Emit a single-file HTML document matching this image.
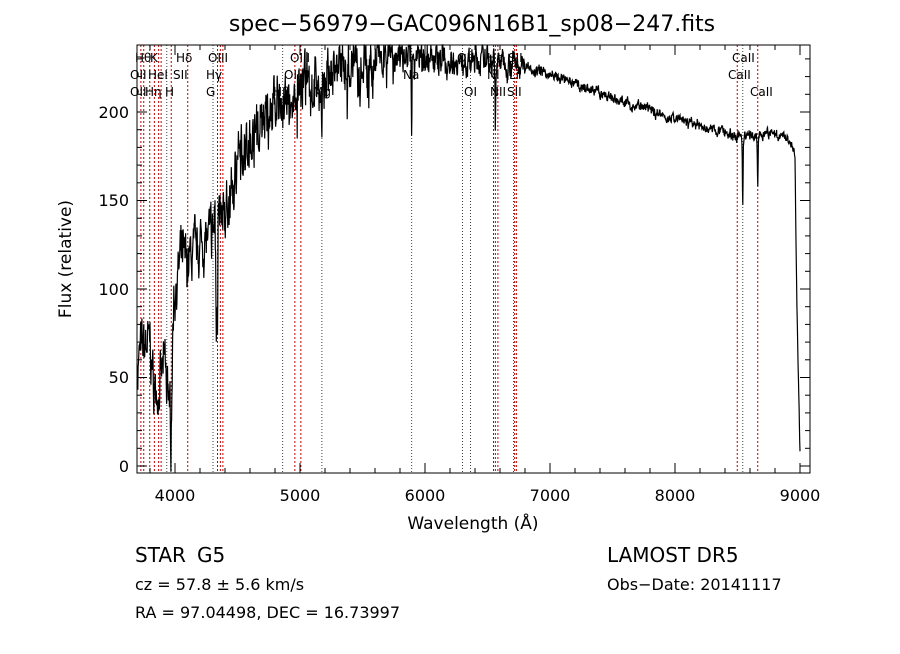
<!DOCTYPE html>
<html><head><meta charset="utf-8"><style>
body{margin:0;background:#fff;}
svg text{font-family:"DejaVu Sans","Liberation Sans",sans-serif;fill:#000;}
</style></head><body>
<svg id="s" width="900" height="649" xmlns="http://www.w3.org/2000/svg">
<rect width="900" height="649" fill="#fff"/>
<text x="472" y="31" font-size="22" text-anchor="middle">spec−56979−GAC096N16B1_sp08−247.fits</text>
<g id="lines"></g>
<polyline id="spec" fill="none" stroke="#000" stroke-width="1.2" points=""/>
<rect x="137" y="45" width="673" height="428" fill="none" stroke="#000" stroke-width="1"/>
<g id="ticks" stroke="#000" stroke-width="1"></g>
<g font-size="16" text-anchor="middle">
<text x="175" y="501">4000</text><text x="300" y="501">5000</text><text x="425" y="501">6000</text>
<text x="550" y="501">7000</text><text x="675" y="501">8000</text><text x="800" y="501">9000</text>
</g>
<g font-size="16" text-anchor="end">
<text x="129" y="472">0</text><text x="129" y="383">50</text><text x="129" y="295">100</text>
<text x="129" y="206">150</text><text x="129" y="118">200</text>
</g>
<text x="473" y="529" font-size="17" text-anchor="middle">Wavelength (Å)</text>
<text transform="translate(71,259) rotate(-90)" font-size="17" text-anchor="middle">Flux (relative)</text>
<g font-size="12" id="lab">
<text x="135" y="62">Hθ</text><text x="150" y="62">K</text><text x="176" y="62">Hδ</text><text x="208" y="62">OIII</text><text x="290" y="62">OIII</text>
<text x="130" y="79">OII</text><text x="148" y="79">HeI</text><text x="173" y="79">SII</text><text x="206" y="79">Hγ</text><text x="284" y="79">OIII</text>
<text x="130" y="96">OII</text><text x="145" y="96">Hη</text><text x="165" y="96">H</text><text x="206" y="96">G</text><text x="273" y="96">Hβ</text><text x="313" y="96">Mg</text>
<text x="457" y="62">OI</text><text x="487" y="62">Ha</text><text x="508" y="62">SII</text>
<text x="403" y="79">Na</text><text x="487" y="79">NI</text><text x="509" y="79">Li</text>
<text x="464" y="96">OI</text><text x="490" y="96">NII</text><text x="507" y="96">SII</text>
<text x="732" y="62">CaII</text><text x="728" y="79">CaII</text><text x="750" y="96">CaII</text>
</g>
<g font-size="20"><text x="135" y="562">STAR</text><text x="197" y="562">G5</text><text x="607" y="562">LAMOST DR5</text></g>
<g font-size="16"><text x="135" y="590">cz = 57.8 ± 5.6 km/s</text><text x="607" y="590">Obs−Date: 20141117</text>
<text x="135" y="618">RA =  97.04498, DEC =  16.73997</text></g>
</svg>
<script>
const X=l=>137.5+(l-3700)*0.125, Y=f=>466-f*1.77;
const NS="http://www.w3.org/2000/svg";
function el(p,t,a){const e=document.createElementNS(NS,t);for(const k in a)e.setAttribute(k,a[k]);p.appendChild(e);return e;}
const tk=document.getElementById('ticks');
for(let l=3800;l<=9000;l+=200){const x=X(l),L=(l%1000==0)?10:5;el(tk,'line',{x1:x,y1:473,x2:x,y2:473-L});el(tk,'line',{x1:x,y1:45,x2:x,y2:45+L});}
for(let f=0;f<=230;f+=10){const y=Y(f),L=(f%50==0)?10:5;el(tk,'line',{x1:137,y1:y,x2:137+L,y2:y});el(tk,'line',{x1:810,y1:y,x2:810-L,y2:y});}
const lg=document.getElementById('lines');
const red=[3727,3750,3798,3835,3869,3889,3970,4102,4340,4363,4383,4959,5007,6548,6563,6583,6717,6731,8498,8662];
const blk=[3934,4304,4861,5175,5893,6300,6364,6708,8542];
red.forEach(l=>el(lg,'line',{x1:X(l),y1:45,x2:X(l),y2:473,stroke:'#c00000','stroke-dasharray':'2,2','stroke-width':1}));
blk.forEach(l=>el(lg,'line',{x1:X(l),y1:45,x2:X(l),y2:473,stroke:'#444','stroke-dasharray':'1,2','stroke-width':1}));
const cp=[[3700,55],[3720,65],[3800,70],[3830,45],[3870,40],[3900,55],[3940,60],[3955,25],[3975,50],[3990,95],[4050,118],[4100,115],[4200,125],[4300,130],[4320,150],[4330,85],[4345,150],[4400,142],[4500,170],[4600,185],[4700,195],[4800,203],[4900,200],[5000,213],[5100,215],[5300,220],[5500,226],[5700,233],[5850,230],[5950,232],[6300,228],[6500,230],[6700,228],[7000,221],[7500,208],[8000,196],[8500,186],[8800,188],[8900,186],[8960,175],[8975,90],[8990,40],[9000,5]];
function cont(l){for(let i=0;i<cp.length-1;i++){if(l<=cp[i+1][0]){const t=(l-cp[i][0])/(cp[i+1][0]-cp[i][0]);return cp[i][1]+t*(cp[i+1][1]-cp[i][1]);}}return 0;}
let seed=7;const rnd=()=>{seed=(seed*16807)%2147483647;return seed/2147483647;};
const dips=[[3933,30,4],[3968,25,4],[4340,40,5],[5175,40,3],[5893,55,4],[6563,40,4],[8542,40,4],[8662,30,4]];
let pts=[];let w=0;
for(let l=3700;l<=9000;l+=2.5){let f=cont(l);
const amp=l<4000?12:l<5600?13:l<6200?9:l<6800?6:2.5;
w=w*0.6+(rnd()-0.5)*2*amp*0.8;
f+=w+(rnd()-0.5)*amp;
if(l>4300&&l<6000&&rnd()<0.03)f-=amp*2*rnd();
dips.forEach(d=>{const z=(l-d[0])/d[2];f-=d[1]*Math.exp(-z*z);});
pts.push(X(l).toFixed(1)+','+Math.max(Y(f),45).toFixed(1));}
document.getElementById('spec').setAttribute('points',pts.join(' '));
</script>
</body></html>
